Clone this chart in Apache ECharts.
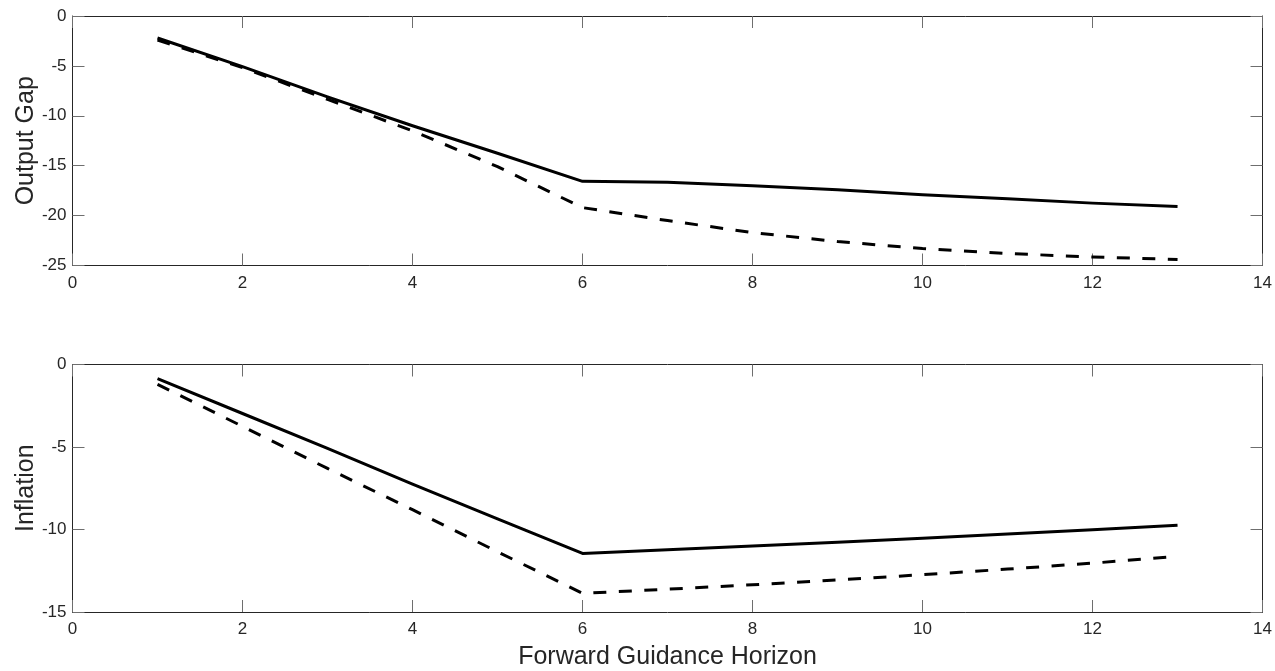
<!DOCTYPE html>
<html>
<head>
<meta charset="utf-8">
<script src="https://cdn.jsdelivr.net/npm/echarts@6/dist/echarts.min.js"></script>
<style>
html,body{margin:0;padding:0;background:#fff;}
#chart{width:1275px;height:671px;}
</style>
</head>
<body>
<div id="chart"></div>
<script>
// Forward guidance horizons
const horizons = [1, 2, 3, 4, 5, 6, 7, 8, 9, 10, 11, 12, 13];
// Output gap responses
const outputGapSolid  = [-2.2, -5.07, -8.1, -11.0, -13.75, -16.57, -16.65, -17.0, -17.4, -17.9, -18.3, -18.75, -19.1];
const outputGapDashed = [-2.4, -5.17, -8.35, -11.5, -15.1, -19.2, -20.5, -21.7, -22.6, -23.3, -23.8, -24.15, -24.4];
// Inflation responses
const inflationSolid  = [-0.85, -2.97, -5.09, -7.25, -9.35, -11.45, -11.22, -11.0, -10.77, -10.53, -10.28, -10.02, -9.74];
const inflationDashed = [-1.2, -3.75, -6.3, -8.8, -11.35, -13.87, -13.62, -13.35, -13.05, -12.74, -12.4, -12.04, -11.63];
// Axis settings
const xTicks = {min: 0, max: 14, interval: 2};
const outputGapTicks = {min: -25, max: 0, interval: 5};
const inflationTicks = {min: -15, max: 0, interval: 5};
const yNames = ['Output Gap', 'Inflation'];
const xName = 'Forward Guidance Horizon';

const FONT = '"Liberation Sans", Arial, Helvetica, sans-serif';
const AXIS_COLOR = '#262626';
const TICK_COLOR = '#6e6e6e';

function pairs(xs, ys) { return xs.map((x, i) => [x, ys[i]]); }

function xAxisPair(gridIndex, withName) {
  const base = {
    type: 'value', gridIndex: gridIndex,
    min: xTicks.min, max: xTicks.max, interval: xTicks.interval,
    splitLine: {show: false},
    axisLine: {show: true, onZero: false, lineStyle: {color: AXIS_COLOR, width: 1}},
    axisTick: {show: true, inside: true, length: 12, lineStyle: {color: TICK_COLOR, width: 1}}
  };
  const bottom = Object.assign({}, base, {
    position: 'bottom',
    axisLabel: {show: true, margin: 9, fontSize: 17, color: AXIS_COLOR, fontFamily: FONT}
  });
  if (withName) {
    Object.assign(bottom, {
      name: xName, nameLocation: 'middle', nameGap: 33, nameMoveOverlap: false,
      nameTextStyle: {fontSize: 25, color: AXIS_COLOR, fontFamily: FONT}
    });
  }
  const top = Object.assign({}, base, {position: 'top', axisLabel: {show: false}});
  return [bottom, top];
}

function yAxisPair(gridIndex, ticks, name) {
  const base = {
    type: 'value', gridIndex: gridIndex,
    min: ticks.min, max: ticks.max, interval: ticks.interval,
    splitLine: {show: false},
    axisLine: {show: true, onZero: false, lineStyle: {color: AXIS_COLOR, width: 1}},
    axisTick: {show: true, inside: true, length: 12, lineStyle: {color: TICK_COLOR, width: 1}}
  };
  const left = Object.assign({}, base, {
    position: 'left',
    name: name, nameLocation: 'middle', nameGap: 34, nameMoveOverlap: false,
    nameTextStyle: {fontSize: 25, color: AXIS_COLOR, fontFamily: FONT},
    axisLabel: {show: true, margin: 6, fontSize: 17, color: AXIS_COLOR, fontFamily: FONT}
  });
  const right = Object.assign({}, base, {position: 'right', axisLabel: {show: false}});
  return [left, right];
}

const xAxes = [...xAxisPair(0, false), ...xAxisPair(1, true)];
const yAxes = [...yAxisPair(0, outputGapTicks, yNames[0]), ...yAxisPair(1, inflationTicks, yNames[1])];

function lineSeries(xIdx, yIdx, data, dashed) {
  return {
    type: 'line', xAxisIndex: xIdx, yAxisIndex: yIdx,
    data: pairs(horizons, data),
    showSymbol: false, symbol: 'none', smooth: false,
    lineStyle: {color: '#000', width: 3, type: dashed ? [13, 12.5] : 'solid', cap: 'butt', join: 'round'},
    z: 3
  };
}

const chart = echarts.init(document.getElementById('chart'), null, {renderer: 'canvas'});
chart.setOption({
  animation: false,
  backgroundColor: '#fff',
  textStyle: {fontFamily: FONT},
  grid: [
    {left: 72.5, right: 12, top: 16, height: 249.5, containLabel: false},
    {left: 72.5, right: 12, top: 364.5, height: 249, containLabel: false}
  ],
  xAxis: xAxes,
  yAxis: yAxes,
  series: [
    lineSeries(0, 0, outputGapSolid, false),
    lineSeries(0, 0, outputGapDashed, true),
    lineSeries(2, 2, inflationSolid, false),
    lineSeries(2, 2, inflationDashed, true)
  ]
});
</script>
</body>
</html>
